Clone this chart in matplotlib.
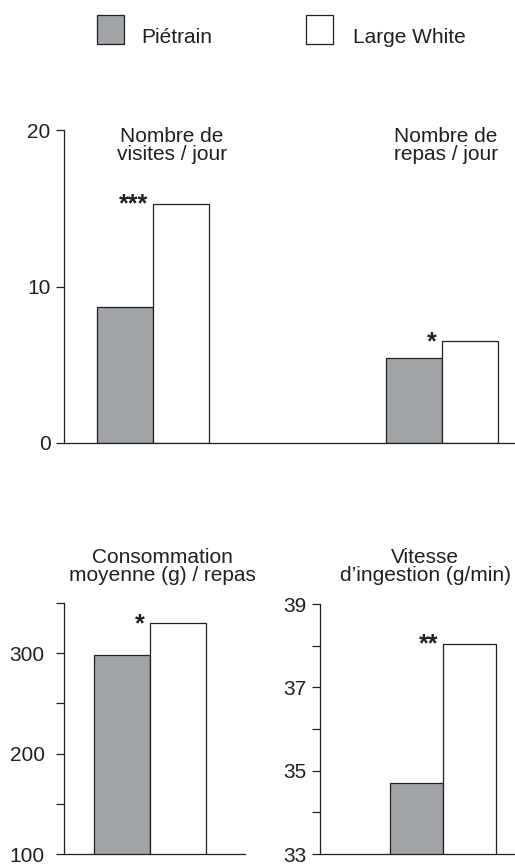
import matplotlib.pyplot as plt
from matplotlib.patches import Rectangle

plt.rcParams['font.family'] = ['Liberation Sans', 'DejaVu Sans']

# data
breeds = ["Piétrain", "Large White"]
breed_colors = ["#a1a4a7", "white"]

top_titles = ["Nombre de\nvisites / jour", "Nombre de\nrepas / jour"]
visites = [8.7, 15.3]
repas = [5.4, 6.5]
top_signif = ["***", "*"]
top_ticks = [0, 10, 20]

conso_title = "Consommation\nmoyenne (g) / repas"
conso = [298, 330]
conso_signif = "*"
conso_ticks = [100, 200, 300]
conso_minor = [150, 250, 350]

vitesse_title = "Vitesse\nd\u2019ingestion (g/min)"
vitesse = [34.7, 38.05]
vitesse_signif = "**"
vitesse_ticks = [33, 35, 37, 39]
vitesse_minor = [34, 36, 38]

INK = "#231f20"
W, H = 515, 865
FS = 15
LW = 0.9

fig = plt.figure(figsize=(W / 100, H / 100), dpi=100)


def px_axes(left, top, right, bottom):
    return fig.add_axes([left / W, 1 - bottom / H, (right - left) / W, (bottom - top) / H])


def style(ax, pad):
    for s in ("top", "right"):
        ax.spines[s].set_visible(False)
    for s in ("left", "bottom"):
        ax.spines[s].set_linewidth(LW)
        ax.spines[s].set_color(INK)
    ax.set_xticks([])
    ax.tick_params(axis="y", which="both", direction="out", length=5.8, width=LW,
                   color=INK, labelsize=FS, labelcolor=INK, pad=pad)


def draw_group(ax, x, values, w, signif):
    bars = []
    for i, (v, c) in enumerate(zip(values, breed_colors)):
        b = ax.bar(x + (i - 0.5) * w, v, width=w, color=c, edgecolor=INK,
                   linewidth=LW, zorder=2)
        bars.append(b[0])
    wb = bars[1]
    ax.annotate(signif, xy=(wb.get_x(), wb.get_height()), xytext=(-5, -8),
                textcoords="offset pixels", ha="right", va="baseline",
                fontsize=18, fontweight="bold", color=INK)


# top panel: visits and meals per day
ax1 = px_axes(64, 130, 515, 443)
style(ax1, 4)
w = 0.194
for gx, vals, sig in zip([0, 1], [visites, repas], top_signif):
    draw_group(ax1, gx, vals, w, sig)
ax1.set_xlim(-0.308, 1.253)
ax1.set_ylim(0, 20)
ax1.set_yticks(top_ticks)

# bottom left: mean intake per meal
ax2 = px_axes(64, 603, 245, 854)
style(ax2, 8)
draw_group(ax2, 0, conso, 1.0, conso_signif)
ax2.set_xlim(-86 / 56, 95 / 56)
ax2.set_ylim(100, 350)
ax2.set_yticks(conso_ticks)
ax2.set_yticks(conso_minor, minor=True)

# bottom right: ingestion speed
ax3 = px_axes(320, 604, 515, 854)
style(ax3, 4)
draw_group(ax3, 0, vitesse, 1.0, vitesse_signif)
ax3.set_xlim(-123 / 53, 72 / 53)
ax3.set_ylim(33, 39)
ax3.set_yticks(vitesse_ticks)
ax3.set_yticks(vitesse_minor, minor=True)

# panel titles
for txt, cx, ty in [(top_titles[0], 172, 127), (top_titles[1], 446, 127),
                    (conso_title, 162, 548), (vitesse_title, 425, 548)]:
    fig.text(cx / W, 1 - ty / H, txt, ha="center", va="top", fontsize=FS,
             color=INK, linespacing=0.95)

# legend, drawn by hand to match the reference layout
for name, c, bx, tx in zip(breeds, breed_colors, [97, 306], [141, 353]):
    fig.patches.append(Rectangle((bx / W, 1 - 44 / H), 27 / W, 29 / H,
                                 transform=fig.transFigure, facecolor=c,
                                 edgecolor=INK, linewidth=LW))
    fig.text(tx / W, 1 - 43 / H, name, ha="left", va="baseline", fontsize=FS, color=INK)

fig.savefig("out.png", dpi=100)
